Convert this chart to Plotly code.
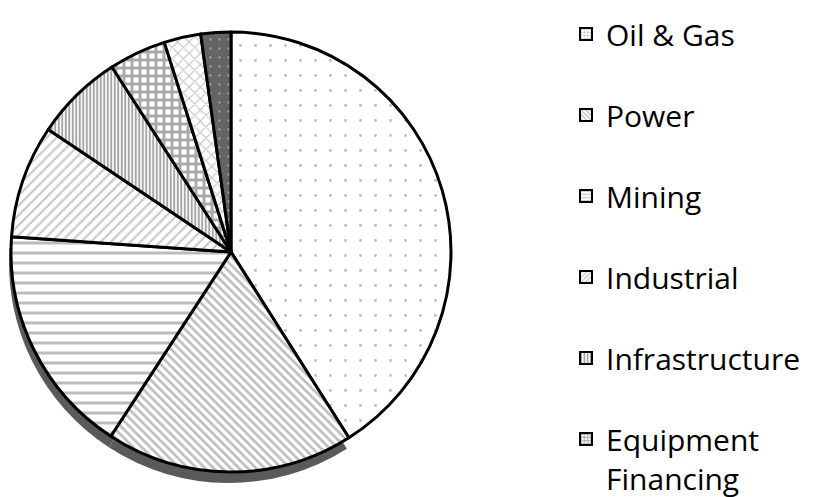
import plotly.graph_objects as go

# ---- data ----
sectors = ["Oil & Gas", "Power", "Mining", "Industrial", "Infrastructure",
           "Equipment Financing", "Other", "Miscellaneous"]
shares = [41.0, 18.2, 16.9, 8.3, 6.5, 4.2, 2.7, 2.2]
legend_labels = ["Oil & Gas", "Power", "Mining", "Industrial", "Infrastructure",
                 "Equipment<br>Financing"]

# ---- styles ----
shapes_pat = [".", "\\", "-", "/", "|", "+", "x", "."]
sizes_pat = [15, 6, 10, 7, 3.5, 8, 8, 9]
solid_pat = [0.03, 0.45, 0.3, 0.3, 0.55, 0.6, 0.25, 0.05]
fg_pat = ["#7c7c7c", "#7c7c7c", "#7a7a7a", "#909090", "#4a4a4a", "#555555", "#808080", "#e0e0e0"]
bg_pat = ["white", "white", "white", "white", "white", "white", "white", "#646464"]

W, H = 816, 497
OFF = 8  # page body margin
cx0, cx1 = 11 - OFF, 451 - OFF
cy0, cy1 = 32 - OFF, 472 - OFF

fig = go.Figure()

# drop shadow (Power and Mining slices only)
shadow_colors = ["rgba(0,0,0,0)", "#5a5a5a", "#5a5a5a", "rgba(0,0,0,0)", "rgba(0,0,0,0)",
                 "rgba(0,0,0,0)", "rgba(0,0,0,0)", "rgba(0,0,0,0)"]
dx, dy = -2, 11
fig.add_trace(go.Pie(
    labels=sectors, values=shares, sort=False, direction="clockwise", rotation=0,
    marker=dict(colors=shadow_colors, line=dict(width=0)),
    textinfo="none", hoverinfo="skip", showlegend=False,
    domain=dict(x=[(cx0 + dx) / W, (cx1 + dx) / W],
                y=[1 - (cy1 + dy) / H, 1 - (cy0 + dy) / H]),
))

fig.add_trace(go.Pie(
    labels=sectors, values=shares, sort=False, direction="clockwise", rotation=0,
    marker=dict(colors=bg_pat, line=dict(color="black", width=3),
                pattern=dict(shape=shapes_pat, size=sizes_pat, solidity=solid_pat,
                             fgcolor=fg_pat, bgcolor=bg_pat, fillmode="overlay")),
    textinfo="none", showlegend=False,
    domain=dict(x=[cx0 / W, cx1 / W], y=[1 - cy1 / H, 1 - cy0 / H]),
))

# legend entries (first six sectors, as in the original)
for i, lab in enumerate(legend_labels):
    fig.add_trace(go.Bar(
        x=[None], y=[None], name=lab, legendgroup=str(i),
        marker=dict(color=bg_pat[i], line=dict(color="black", width=2),
                    pattern=dict(shape=shapes_pat[i], size=4, solidity=max(solid_pat[i], 0.35),
                                 fgcolor=fg_pat[i], bgcolor=bg_pat[i], fillmode="overlay")),
    ))

fig.update_layout(
    width=W, height=H,
    margin=dict(l=0, r=0, t=0, b=0),
    paper_bgcolor="white", plot_bgcolor="white",
    xaxis=dict(visible=False), yaxis=dict(visible=False),
    font=dict(family="Open Sans", size=30, color="black"),
    legend=dict(x=(563 - 5) / W, y=1, xanchor="left", yanchor="top",
                tracegroupgap=39, valign="top", bgcolor="rgba(0,0,0,0)",
                font=dict(family="Open Sans", size=30, color="black")),
)

fig.write_html("out.html")
